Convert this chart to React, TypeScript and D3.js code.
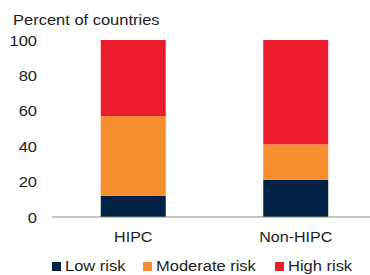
import React from 'react';
import * as d3 from 'd3';

const categories = ['HIPC', 'Non-HIPC'];
const lowRisk = [12, 21];
const moderateRisk = [45, 20];
const highRisk = [43, 59];
const yTicks = [0, 20, 40, 60, 80, 100];

const seriesNames = ['Low risk', 'Moderate risk', 'High risk'];
const colors = ['#002244', '#F68D2E', '#EC1C2E'];

const W = 370;
const H = 275;
const margin = { left: 52, top: 40, bottom: 58 };
const SX = 1.1; // source text is slightly wider than Arial

const T = ({ x, y, children, anchor = 'start', size = 15, sx = SX }: any) => (
  <text
    transform={`translate(${x},${y}) scale(${sx},1)`}
    textAnchor={anchor}
    fontSize={size}
    fill="#222"
  >
    {children}
  </text>
);

export default function App() {
  const x = d3
    .scaleBand<string>()
    .domain(categories)
    .range([margin.left, margin.left + 325])
    .paddingInner(0.6)
    .paddingOuter(0.3);
  const y = d3.scaleLinear().domain([0, 100]).range([H - margin.bottom, margin.top]);

  const rows = categories.map((c, i) => ({
    cat: c,
    low: lowRisk[i],
    moderate: moderateRisk[i],
    high: highRisk[i],
  }));
  const stack = d3.stack<any>().keys(['low', 'moderate', 'high'])(rows);

  const font = 'Arial, "Liberation Sans", sans-serif';

  // legend layout
  const legendItems = [
    { x: 52, label: seriesNames[0] },
    { x: 143, label: seriesNames[1] },
    { x: 275, label: seriesNames[2] },
  ];

  return (
    <svg width={W} height={H} style={{ position: 'absolute', left: 0, top: 0, background: '#fff' }} fontFamily={font}>
      <T x={13} y={25}>Percent of countries</T>
      {yTicks.map((t) => (
        <T key={t} x={37} y={y(t) + 5.5} anchor="end">
          {t}
        </T>
      ))}
      {stack.map((s, si) => (
        <g key={si} fill={colors[si]}>
          {s.map((d, i) => (
            <rect
              key={i}
              x={x(categories[i])}
              width={x.bandwidth()}
              y={y(d[1])}
              height={y(d[0]) - y(d[1])}
            />
          ))}
        </g>
      ))}
      <line x1={margin.left} x2={W} y1={y(0)} y2={y(0)} stroke="#888" strokeWidth={1} />
      {categories.map((c) => (
        <T key={c} x={(x(c) ?? 0) + x.bandwidth() / 2} y={242} anchor="middle" sx={1.07}>
          {c}
        </T>
      ))}
      {legendItems.map((l, i) => (
        <g key={i}>
          <rect x={l.x} y={262} width={9} height={9} fill={colors[i]} />
          <T x={l.x + 13} y={271}>{l.label}</T>
        </g>
      ))}
    </svg>
  );
}
